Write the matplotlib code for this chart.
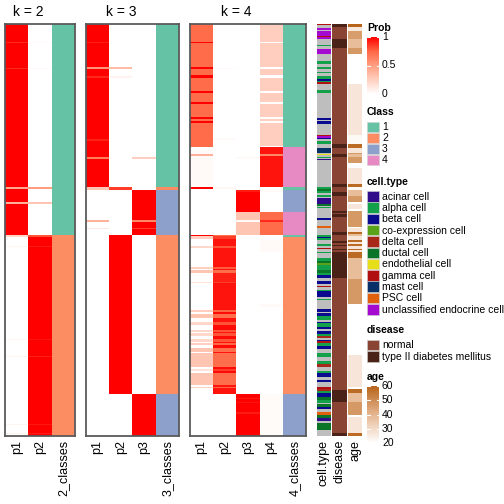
import numpy as np
import matplotlib
matplotlib.use('Agg')
import matplotlib.pyplot as plt
from matplotlib.colors import LinearSegmentedColormap, to_rgb
from matplotlib.patches import Rectangle
from matplotlib.transforms import blended_transform_factory

plt.rcParams['font.family'] = ['Liberation Sans', 'DejaVu Sans']

# heatmap rows (samples), values given as run starts: (first row, value)
N_ROWS = 412

k2_p1 = [(0, 1.0), (18, 0.9), (19, 1.0), (44, 0.9), (45, 1.0), (163, 0.45), (165, 1.0),
         (178, 0.4), (180, 1.0), (211, 0.2), (213, 0.0), (222, 0.05), (223, 0.0),
         (315, 0.04), (316, 0.0), (332, 0.06), (333, 0.0), (400, 0.05), (401, 0.0),
         (409, 0.06), (410, 0.0)]
k2_p2 = [(0, 0.0), (18, 0.03), (19, 0.0), (44, 0.03), (45, 0.0), (163, 0.5), (165, 0.0),
         (178, 0.3), (180, 0.0), (211, 0.8), (213, 1.0), (222, 0.93), (223, 1.0),
         (315, 0.95), (316, 1.0), (332, 0.92), (333, 1.0), (400, 0.94), (401, 1.0),
         (409, 0.93), (410, 1.0)]
k2_cls = [(0, 1), (211, 2)]

k3_p1 = [(0, 1.0), (18, 0.92), (19, 1.0), (43, 0.55), (45, 1.0), (52, 0.9), (54, 1.0),
         (115, 0.92), (117, 1.0), (133, 0.65), (135, 1.0), (163, 0.3), (166, 0.0),
         (196, 0.4), (198, 0.0), (204, 0.12), (205, 0.0)]
k3_p2 = [(0, 0.0), (43, 0.35), (45, 0.0), (52, 0.06), (54, 0.0), (163, 0.85), (166, 0.0),
         (211, 1.0), (370, 0.0)]
k3_p3 = [(0, 0.0), (133, 0.25), (135, 0.0), (166, 1.0), (196, 0.6), (198, 1.0),
         (204, 0.85), (205, 1.0), (211, 0.0), (370, 1.0)]
k3_cls = [(0, 1), (163, 2), (166, 3), (211, 2), (370, 3)]

k4_p1 = [(0, 0.73), (18, 1.0), (19, 0.73), (43, 1.0), (45, 0.73), (51, 1.0), (54, 0.73),
         (67, 1.0), (69, 0.73), (78, 1.0), (80, 0.73), (93, 1.0), (95, 0.73), (97, 1.0),
         (99, 0.73), (123, 0.0), (126, 0.03), (130, 0.4), (132, 0.03), (163, 1.0),
         (165, 0.0), (211, 1.0), (212, 0.25), (215, 0.0), (222, 0.2), (224, 0.0),
         (243, 0.25), (245, 0.0), (246, 0.3), (249, 0.0), (258, 0.15), (259, 0.0),
         (286, 0.25), (288, 0.0), (290, 0.3), (294, 0.0), (298, 0.2), (301, 0.0),
         (306, 0.2), (308, 0.0), (309, 0.2), (312, 0.0), (315, 0.2), (318, 0.0),
         (319, 0.25), (321, 0.0), (324, 0.3), (328, 0.0), (329, 0.3), (343, 0.0),
         (345, 0.15), (347, 0.0), (349, 0.3), (361, 0.0), (363, 0.25), (364, 0.0)]
k4_p2 = [(0, 0.0), (44, 0.03), (45, 0.0), (114, 0.03), (116, 0.0), (163, 0.04), (165, 0.0),
         (211, 0.72), (212, 0.85), (215, 0.95), (222, 0.8), (224, 0.95), (243, 0.78),
         (245, 0.95), (246, 0.72), (249, 0.92), (258, 0.85), (259, 0.95), (286, 0.75),
         (288, 0.97), (290, 0.72), (294, 0.95), (298, 0.8), (301, 0.97), (306, 0.8),
         (308, 0.95), (309, 0.8), (312, 0.97), (315, 0.8), (318, 0.95), (319, 0.75),
         (321, 0.97), (324, 0.72), (328, 0.95), (329, 0.72), (343, 0.97), (345, 0.85),
         (347, 0.97), (349, 0.72), (361, 0.95), (363, 0.75), (364, 0.95), (370, 0.0)]
k4_p3 = [(0, 0.0), (133, 0.05), (134, 0.0), (166, 0.93), (168, 1.0), (188, 0.3),
         (196, 0.02), (198, 0.3), (211, 0.0), (370, 1.0), (374, 0.93), (375, 1.0),
         (378, 0.95), (379, 1.0), (388, 0.93), (390, 1.0)]
k4_p4 = [(0, 0.25), (18, 0.0), (19, 0.25), (43, 0.0), (45, 0.25), (51, 0.0), (54, 0.25),
         (67, 0.0), (69, 0.25), (78, 0.0), (80, 0.25), (93, 0.0), (95, 0.25), (97, 0.0),
         (99, 0.25), (122, 0.0), (123, 0.95), (130, 0.6), (132, 0.95), (163, 0.0),
         (166, 0.03), (168, 0.0), (188, 0.73), (196, 0.9), (198, 0.73), (211, 0.0),
         (215, 0.03), (228, 0.0), (280, 0.03), (283, 0.0), (370, 0.02)]
k4_cls = [(0, 1), (123, 4), (163, 1), (166, 3), (188, 4), (211, 1), (213, 2), (370, 3)]

cell_type = [(0, 'gamma cell'), (1, None), (4, 'unclassified endocrine cell'), (6, None),
             (7, 'unclassified endocrine cell'), (12, 'gamma cell'),
             (13, 'unclassified endocrine cell'), (15, None), (21, 'alpha cell'), (22, None),
             (25, 'unclassified endocrine cell'), (30, None), (37, 'alpha cell'), (40, None),
             (43, 'alpha cell'), (45, None), (48, 'alpha cell'), (49, None), (52, 'alpha cell'),
             (55, 'beta cell'), (57, 'alpha cell'), (58, 'gamma cell'), (60, None),
             (66, 'alpha cell'), (69, None), (94, 'beta cell'), (96, None), (97, 'beta cell'),
             (100, None), (111, 'gamma cell'), (112, 'unclassified endocrine cell'),
             (114, 'beta cell'), (115, None), (117, 'alpha cell'), (120, None),
             (124, 'mast cell'), (129, None), (130, 'endothelial cell'), (131, None),
             (133, 'alpha cell'), (134, None), (135, 'acinar cell'), (136, None),
             (163, 'alpha cell'), (165, 'ductal cell'), (167, 'alpha cell'), (169, None),
             (171, 'alpha cell'), (173, None), (174, 'acinar cell'), (180, 'ductal cell'),
             (182, None), (183, 'alpha cell'), (184, None), (194, 'beta cell'), (196, None),
             (202, 'PSC cell'), (204, None), (211, 'alpha cell'), (213, 'beta cell'),
             (214, 'alpha cell'), (216, None), (220, 'alpha cell'), (222, None),
             (224, 'gamma cell'), (225, None), (228, 'alpha cell'), (229, None),
             (234, 'alpha cell'), (237, 'ductal cell'), (239, 'co-expression cell'),
             (241, 'alpha cell'), (246, 'ductal cell'), (249, 'alpha cell'), (251, 'beta cell'),
             (254, None), (257, 'beta cell'), (260, None), (262, 'gamma cell'), (263, None),
             (266, 'alpha cell'), (267, 'beta cell'), (273, None), (275, 'alpha cell'),
             (276, None), (285, 'beta cell'), (288, None), (289, 'beta cell'),
             (292, 'alpha cell'), (296, None), (298, 'beta cell'), (299, 'alpha cell'),
             (303, 'beta cell'), (305, None), (307, 'beta cell'), (310, 'alpha cell'),
             (312, 'delta cell'), (314, None), (316, 'beta cell'), (317, 'gamma cell'),
             (319, 'alpha cell'), (322, 'beta cell'), (325, None), (329, 'alpha cell'),
             (333, None), (337, 'alpha cell'), (340, 'delta cell'), (343, None),
             (347, 'alpha cell'), (349, 'beta cell'), (353, None), (356, 'beta cell'),
             (358, None), (363, 'gamma cell'), (365, 'delta cell'), (367, 'alpha cell'),
             (369, 'beta cell'), (373, 'ductal cell'), (376, 'alpha cell'), (379, None),
             (380, 'ductal cell'), (383, 'beta cell'), (385, None), (388, 'PSC cell'),
             (391, 'ductal cell'), (394, 'acinar cell'), (397, None), (399, 'ductal cell'),
             (406, None)]

disease = [(0, 'type II diabetes mellitus'), (3, 'normal'), (15, 'type II diabetes mellitus'),
           (24, 'normal'), (120, 'type II diabetes mellitus'), (124, 'normal'),
           (130, 'type II diabetes mellitus'), (133, 'normal'), (160, 'type II diabetes mellitus'),
           (163, 'normal'), (168, 'type II diabetes mellitus'), (172, 'normal'),
           (187, 'type II diabetes mellitus'), (189, 'normal'), (190, 'type II diabetes mellitus'),
           (193, 'normal'), (208, 'type II diabetes mellitus'), (211, 'normal'),
           (217, 'type II diabetes mellitus'), (219, 'normal'), (221, 'type II diabetes mellitus'),
           (222, 'normal'), (225, 'type II diabetes mellitus'), (226, 'normal'),
           (228, 'type II diabetes mellitus'), (254, 'normal'), (366, 'type II diabetes mellitus'),
           (378, 'normal'), (409, 'type II diabetes mellitus')]

age = [(0, 60), (3, 26), (7, 46), (15, 38), (24, 47), (30, 20), (60, 27), (111, 22), (120, 58),
       (124, 27), (129, 47), (130, 38), (133, 47), (139, 20), (144, 27), (160, 58), (163, 22),
       (166, 38), (172, 47), (178, 20), (180, 27), (185, 20), (187, 47), (203, 20), (204, 27),
       (208, 58), (210, 38), (212, 27), (216, 58), (218, 27), (220, 58), (222, 27), (225, 58),
       (226, 27), (228, 58), (234, 38), (255, 47), (280, 20), (331, 27), (363, 20), (365, 58),
       (369, 38), (378, 47), (391, 20), (393, 27), (409, 58)]

class_colors = {1: '#66C2A5', 2: '#FC8D62', 3: '#8DA0CB', 4: '#E78AC3'}
cell_colors = {
    'acinar cell': '#300C8A', 'alpha cell': '#12A04A', 'beta cell': '#0A0A8E',
    'co-expression cell': '#5AA21A', 'delta cell': '#A8281A', 'ductal cell': '#0A7428',
    'endothelial cell': '#E6DE1A', 'gamma cell': '#B01010', 'mast cell': '#0A3068',
    'PSC cell': '#E0600E', 'unclassified endocrine cell': '#A40AD0', None: '#BEBEBE'}
disease_colors = {'normal': '#8A4434', 'type II diabetes mellitus': '#4A2218'}

prob_cmap = LinearSegmentedColormap.from_list(
    'prob', [(0, '#FFFFFF'), (0.25, '#FFCFBF'), (0.5, '#FF9E81'), (0.75, '#FF6846'), (1, '#FF0000')])
age_cmap = LinearSegmentedColormap.from_list(
    'age', [(0, '#FFFFFF'), (0.5, '#E6B690'), (1, '#B8641A')])


def expand(runs):
    out = [None] * N_ROWS
    for i, (start, val) in enumerate(runs):
        end = runs[i + 1][0] if i + 1 < len(runs) else N_ROWS
        out[start:end] = [val] * (end - start)
    return out


W = H = 504
TOP, BOT = 24, 436
fig = plt.figure(figsize=(5.04, 5.04), dpi=100)


def px_axes(x0, x1, y0=TOP, y1=BOT):
    return fig.add_axes([x0 / W, 1 - y1 / H, (x1 - x0) / W, (y1 - y0) / H])


panels = [
    ('k = 2', [k2_p1, k2_p2], k2_cls, '2_classes', (5, 75)),
    ('k = 3', [k3_p1, k3_p2, k3_p3], k3_cls, '3_classes', (86, 179)),
    ('k = 4', [k4_p1, k4_p2, k4_p3, k4_p4], k4_cls, '4_classes', (190, 306)),
]

for title, probs, cls, cls_name, (x0, x1) in panels:
    ax = px_axes(x0, x1)
    cols = [prob_cmap(np.array(expand(p), dtype=float))[:, :3] for p in probs]
    cols.append(np.array([to_rgb(class_colors[c]) for c in expand(cls)]))
    img = np.stack(cols, axis=1)
    n = img.shape[1]
    ax.imshow(img, aspect='auto', interpolation='nearest', extent=(0, n, N_ROWS, 0))
    ax.set_xticks([])
    ax.set_yticks([])
    for s in ax.spines.values():
        s.set_color('#5a5a5a')
        s.set_linewidth(1.3)
    tr = blended_transform_factory(ax.transData, ax.transAxes)
    ax.text(len(probs) / 2, 1 + 12 / 412, title, transform=tr, ha='center', va='center',
            fontsize=10)
    labels = ['p%d' % (i + 1) for i in range(len(probs))] + [cls_name]
    for i, lab in enumerate(labels):
        ax.text(i + 0.5, -4 / 412, lab, transform=tr, rotation=90, ha='center', va='top',
                fontsize=9)

# annotation columns
annos = [
    ('cell.type', [cell_colors[v] for v in expand(cell_type)], (317, 331)),
    ('disease', [disease_colors[v] for v in expand(disease)], (332, 347)),
    ('age', [age_cmap((v - 20) / 40) for v in expand(age)], (348, 362)),
]
for name, colors, (x0, x1) in annos:
    ax = px_axes(x0, x1)
    img = np.array([to_rgb(c) for c in colors])[:, None, :]
    ax.imshow(img, aspect='auto', interpolation='nearest', extent=(0, 1, N_ROWS, 0))
    ax.set_xticks([])
    ax.set_yticks([])
    for s in ax.spines.values():
        s.set_visible(False)
    ax.text(0.5, -4 / 412, name, transform=ax.transAxes, rotation=90, ha='center', va='top',
            fontsize=9)

# legends, drawn in pixel coordinates
lg = fig.add_axes([0, 0, 1, 1])
lg.axis('off')
LX, BW = 367, 12
TXT = 7.5


def title(y, text):
    lg.text(LX, y, text, fontsize=TXT, fontweight='bold', va='center', ha='left')


def cat_legend(y_top, step, labels, colors):
    for i, (lab, col) in enumerate(zip(labels, colors)):
        y = y_top + i * step
        lg.add_patch(Rectangle((LX, y), BW, step - 0.8, facecolor=col, edgecolor='#d0d0d0',
                               linewidth=0.4))
        lg.text(LX + BW + 3, y + step / 2, lab, fontsize=TXT, va='center', ha='left')


# Prob
title(28, 'Prob')
pb_top, pb_bot = 37, 94
lg.imshow(np.linspace(1, 0, 200)[:, None], cmap=prob_cmap, aspect='auto',
          extent=(LX, LX + BW, pb_bot, pb_top), interpolation='bilinear')
for v, lab in [(1, '1'), (0.5, '0.5'), (0, '0')]:
    y = pb_bot - v * (pb_bot - pb_top)
    lg.plot([LX, LX + 2.5], [y, y], color='white', lw=0.8)
    lg.plot([LX + BW - 2.5, LX + BW], [y, y], color='white', lw=0.8)
    lg.text(LX + BW + 3, y, lab, fontsize=TXT, va='center', ha='left')

title(112, 'Class')
cat_legend(121.5, 11.1, ['1', '2', '3', '4'], [class_colors[k] for k in (1, 2, 3, 4)])

title(182, 'cell.type')
ct_labels = [k for k in cell_colors if k is not None]
cat_legend(191, 11.3, ct_labels, [cell_colors[k] for k in ct_labels])

title(330, 'disease')
cat_legend(339.5, 11.5, list(disease_colors), list(disease_colors.values()))

title(377, 'age')
ab_top, ab_bot = 386, 443
lg.imshow(np.linspace(60, 20, 200)[:, None], cmap=age_cmap, vmin=20, vmax=60, aspect='auto',
          extent=(LX, LX + BW, ab_bot, ab_top), interpolation='bilinear')
for v in [60, 50, 40, 30, 20]:
    y = ab_bot - (v - 20) / 40 * (ab_bot - ab_top)
    lg.plot([LX, LX + 2.5], [y, y], color='white', lw=0.8)
    lg.plot([LX + BW - 2.5, LX + BW], [y, y], color='white', lw=0.8)
    lg.text(LX + BW + 3, y, str(v), fontsize=TXT, va='center', ha='left')

lg.set_xlim(0, W)
lg.set_ylim(H, 0)

fig.savefig('out.png', dpi=100)
